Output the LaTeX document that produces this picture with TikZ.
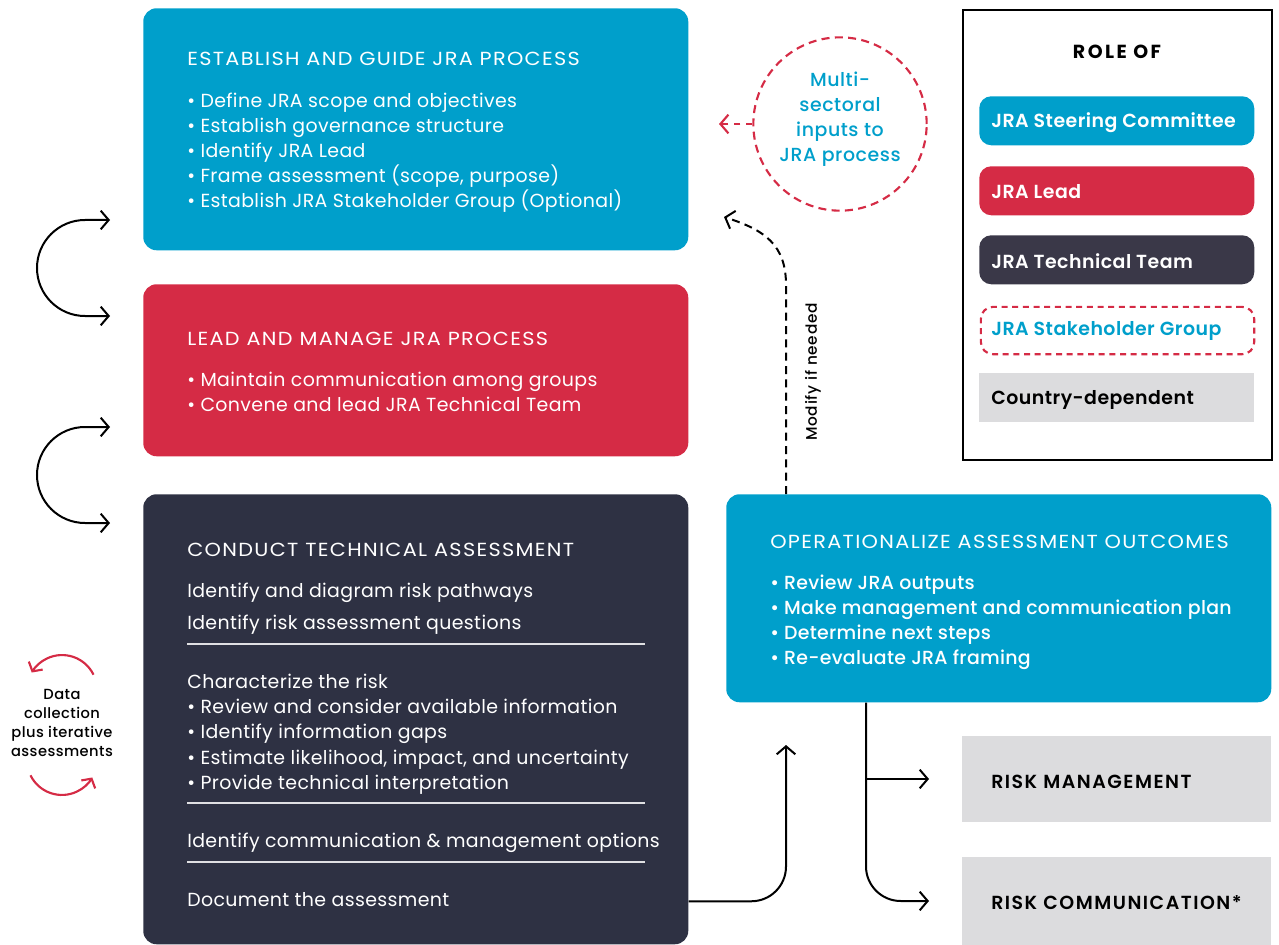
\documentclass[tikz,border=0pt]{standalone}
\usepackage{fontspec}
\setmainfont{Poppins}
\newfontfamily\fbody{Poppins}[LetterSpace=2]
\newfontfamily\fcaps{Poppins}[FakeStretch=1.1, LetterSpace=7]
\newfontfamily\fmed{Poppins Medium}[LetterSpace=3]
\newfontfamily\fmedb{Poppins Medium}[LetterSpace=1.5]
\newfontfamily\fmedwide{Poppins Medium}[LetterSpace=5]
\newfontfamily\fmedcaps{Poppins SemiBold}[LetterSpace=8]
\newfontfamily\fbcaps{Poppins Bold}[LetterSpace=13]
\newfontfamily\fleg{Poppins SemiBold}[LetterSpace=2.5]
\usetikzlibrary{arrows.meta,calc}
\definecolor{jblue}{HTML}{009FCB}
\definecolor{jred}{HTML}{D52B45}
\definecolor{jdark}{HTML}{2E3143}
\definecolor{jdark2}{HTML}{3A3848}
\definecolor{jgray}{HTML}{DCDCDE}
\begin{document}
\begin{tikzpicture}[x=0.75pt,y=-0.75pt,
  box/.style={anchor=north west, inner sep=0, rounded corners=10pt},
  pill/.style={anchor=north west, inner sep=0, rounded corners=9pt, minimum width=206.25pt, minimum height=36.75pt},
  body/.style={anchor=base west, inner sep=0, text=white, font=\fbody\fontsize{14.2}{17}\selectfont},
  ttl/.style={anchor=base west, inner sep=0, text=white, font=\fcaps\fontsize{14.2}{17}\selectfont},
  sbody/.style={anchor=base west, inner sep=0, text=white, font=\fmedb\fontsize{14.2}{17}\selectfont},
  rtxt/.style={anchor=base west, inner sep=0, text=black, font=\fmedcaps\fontsize{14.2}{17}\selectfont},
  leg/.style={anchor=west, inner sep=0, font=\fleg\fontsize{14.2}{17}\selectfont},
  tip/.style={-{Straight Barb[length=6pt,width=14pt]}, line width=1.5pt},
  sep/.style={draw=white!85!jdark, line width=0.8pt},
  rdash/.style={draw=jred, dash pattern=on 6pt off 4pt, line width=1.6pt}
]
\useasboundingbox (0,0) rectangle (1279,945);

% ---------- main boxes ----------
\node[box, fill=jblue, minimum width=408.75pt, minimum height=181.5pt] (b1) at (143,8) {};
\node[box, fill=jred, minimum width=408.75pt, minimum height=129pt] (b2) at (143,284) {};
\node[box, fill=jdark, minimum width=408.75pt, minimum height=337.5pt] (b3) at (143,494) {};
\node[box, fill=jblue, minimum width=408.75pt, minimum height=156pt] (b4) at (726,494) {};
\node[anchor=north west, inner sep=0, fill=jgray, minimum width=231.75pt, minimum height=64.5pt] (rm) at (962,736) {};
\node[anchor=north west, inner sep=0, fill=jgray, minimum width=231.75pt, minimum height=66pt] (rc) at (962,857) {};

% box 1 text
\node[ttl] (t1) at (187,66) {ESTABLISH AND GUIDE JRA PROCESS};
\node[body] (t1a) at (187,108) {• Define JRA scope and objectives};
\node[body] (t1b) at (187,133) {• Establish governance structure};
\node[body] (t1c) at (187,158) {• Identify JRA Lead};
\node[body] (t1d) at (187,183) {• Frame assessment (scope, purpose)};
\node[body] (t1e) at (187,208) {• Establish JRA Stakeholder Group (Optional)};

% box 2 text
\node[ttl] (t2) at (187,345) {LEAD AND MANAGE JRA PROCESS};
\node[body] (t2a) at (187,386) {• Maintain communication among groups};
\node[body] (t2b) at (187,411) {• Convene and lead JRA Technical Team};

% box 3 text
\node[ttl] (t3) at (187,556) {CONDUCT TECHNICAL ASSESSMENT};
\node[body] (t3a) at (187,597) {Identify and diagram risk pathways};
\node[body] (t3b) at (187,629) {Identify risk assessment questions};
\coordinate (s1l) at (187,644); \coordinate (s1r) at (645,644);
\draw[sep] (s1l) -- (s1r);
\node[body] (t3c) at (187,688) {Characterize the risk};
\node[body] (t3d) at (187,713) {• Review and consider available information};
\node[body] (t3e) at (187,738) {• Identify information gaps};
\node[body] (t3f) at (187,764) {• Estimate likelihood, impact, and uncertainty};
\node[body] (t3g) at (187,789) {• Provide technical interpretation};
\coordinate (s2l) at (187,803); \coordinate (s2r) at (645,803);
\draw[sep] (s2l) -- (s2r);
\node[body] (t3h) at (187,847) {Identify communication \& management options};
\coordinate (s3l) at (187,862); \coordinate (s3r) at (645,862);
\draw[sep] (s3l) -- (s3r);
\node[body] (t3i) at (187,906) {Document the assessment};

% box 4 text
\node[ttl] (t4) at (770,548) {OPERATIONALIZE ASSESSMENT OUTCOMES};
\node[sbody] (t4a) at (770,589) {• Review JRA outputs};
\node[sbody] (t4b) at (770,614) {• Make management and communication plan};
\node[sbody] (t4c) at (770,639) {• Determine next steps};
\node[sbody] (t4d) at (770,664) {• Re-evaluate JRA framing};

% risk boxes text
\node[rtxt] (rmt) at (991,788) {RISK MANAGEMENT};
\node[rtxt] (rct) at (991,909) {RISK COMMUNICATION*};

% ---------- legend ----------
\node[anchor=north west, inner sep=0, draw=black, line width=1.5pt, minimum width=231.75pt, minimum height=337.5pt] (lg) at (962,9) {};
\node[inner sep=0, font=\fbcaps\fontsize{14.2}{17}\selectfont] (lgt) at (1117,52) {ROLE OF};
\node[pill, fill=jblue] (p1) at (979,96) {};
\node[leg, text=white] (p1t) at (991,122.5) {JRA Steering Committee};
\node[pill, fill=jred] (p2) at (979,166) {};
\node[leg, text=white] (p2t) at (991,191.5) {JRA Lead};
\node[pill, fill=jdark2] (p3) at (979,235) {};
\node[leg, text=white] (p3t) at (991,261.5) {JRA Technical Team};
\node[pill, rdash, dash pattern=on 4.5pt off 3.5pt, minimum width=205pt, minimum height=35.5pt] (p4) at (979.8,305.8) {};
\node[leg, text=jblue] (p4t) at (991,330.5) {JRA Stakeholder Group};
\node[anchor=north west, inner sep=0, fill=jgray, minimum width=206.25pt, minimum height=36.75pt] (p5) at (979,373) {};
\node[leg, text=black] (p5t) at (991,399.5) {Country-dependent};

% ---------- multi-sectoral circle ----------
\node[circle, rdash, minimum size=130pt, inner sep=0] (ms) at (840,124) {};
\node[align=center, text=jblue, font=\fmed\fontsize{14.2}{18.75}\selectfont, inner sep=0] (mst) at (840,119) {Multi-\\sectoral\\inputs to\\JRA process};
\coordinate (msend) at (719,124);
\draw[rdash, dash pattern=on 5pt off 4pt, -{Straight Barb[length=6pt,width=14pt]}] (ms.west) -- (msend);

% ---------- modify if needed ----------
\coordinate (modtip) at (724,217);
\coordinate (modbend) at (786,285);
\draw[tip, dash pattern=on 6pt off 4pt] (b4.north -| modbend) -- (modbend) .. controls (786,245) and (765,230) .. (modtip);
\node[rotate=90, inner sep=0, font=\fmedwide\fontsize{11.5}{13}\selectfont] (modt) at (813,372) {Modify if needed};

% ---------- left curly arrows ----------
\coordinate (c1a) at (110,220); \coordinate (c1b) at (110,316);
\draw[{Straight Barb[length=6pt,width=14pt]}-{Straight Barb[length=6pt,width=14pt]}, line width=1.5pt]
  (c1a) -- (85,220) arc[start angle=-90, end angle=-270, radius=48] -- (c1b);
\coordinate (c2a) at (110,427); \coordinate (c2b) at (110,523);
\draw[{Straight Barb[length=6pt,width=14pt]}-{Straight Barb[length=6pt,width=14pt]}, line width=1.5pt]
  (c2a) -- (85,427) arc[start angle=-90, end angle=-270, radius=48] -- (c2b);

% ---------- data collection ----------
\node[align=center, font=\fmed\fontsize{11}{14.25}\selectfont, inner sep=0] (dc) at (62,723) {Data\\collection\\plus iterative\\assessments};
\draw[draw=jred, line width=1.6pt, -{Straight Barb[length=5pt,width=12pt]}] (93.5,674.7) arc[start angle=-26, end angle=-150, radius=35];
\draw[draw=jred, line width=1.6pt, -{Straight Barb[length=5pt,width=12pt]}] (30.5,775.3) arc[start angle=154, end angle=30, radius=35];

% ---------- bottom connectors ----------
\coordinate (uptip) at (786,745);
\draw[tip, rounded corners=26pt] (b3.east |- rc.center) -| (uptip);
\coordinate (dtop) at (866,702);
\coordinate (rmtip) at (929,779);
\coordinate (rctip) at (929,901);
\draw[tip, rounded corners=26pt] (b4.south -| dtop) |- (rctip);
\draw[tip] (dtop |- rmtip) -- (rmtip);
\end{tikzpicture}
\end{document}
